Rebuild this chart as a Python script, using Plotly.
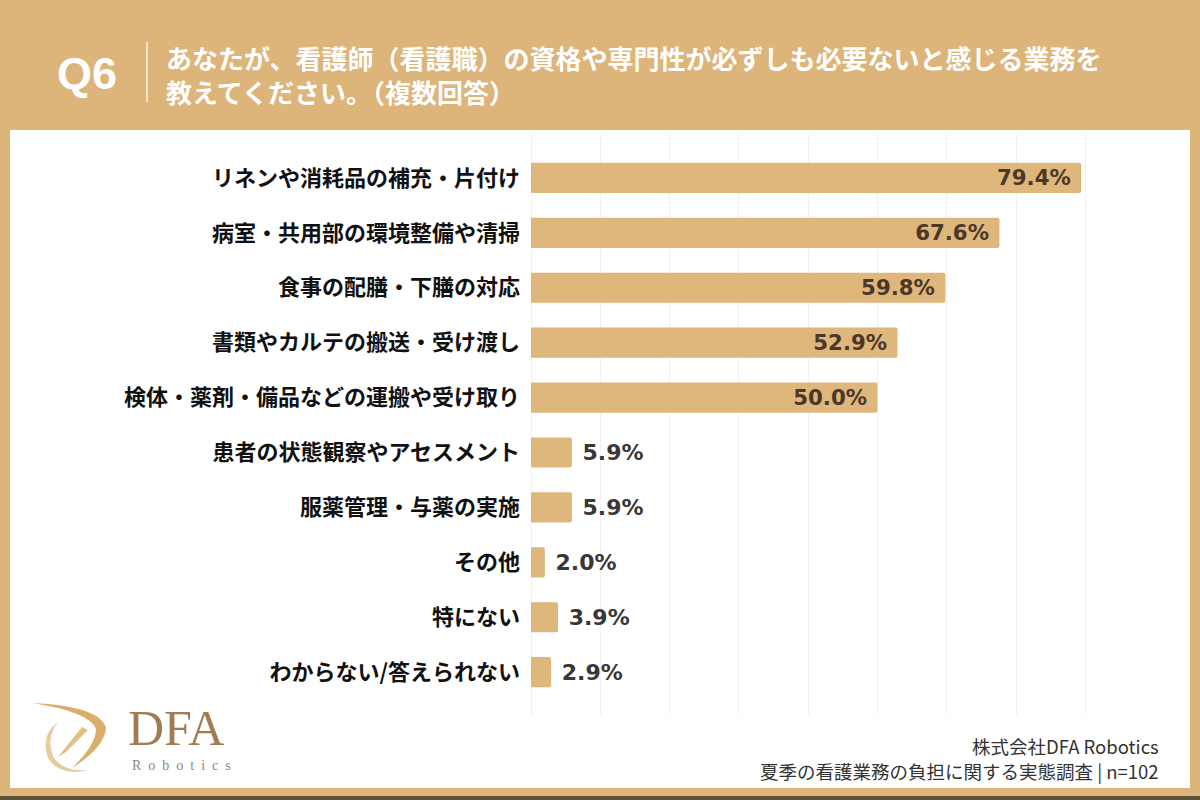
import plotly.graph_objects as go

# ---- data ----
categories = [
    "リネンや消耗品の補充・片付け",
    "病室・共用部の環境整備や清掃",
    "食事の配膳・下膳の対応",
    "書類やカルテの搬送・受け渡し",
    "検体・薬剤・備品などの運搬や受け取り",
    "患者の状態観察やアセスメント",
    "服薬管理・与薬の実施",
    "その他",
    "特にない",
    "わからない/答えられない",
]
values = [79.4, 67.6, 59.8, 52.9, 50.0, 5.9, 5.9, 2.0, 3.9, 2.9]

title_q = "Q6"
title_text = "あなたが、看護師（看護職）の資格や専門性が必ずしも必要ないと感じる業務を<br>教えてください。（複数回答）"
footer_company = "株式会社DFA Robotics"
footer_survey = "夏季の看護業務の負担に関する実態調査 | n=102"

W, H = 1200, 800
GOLD = "#DDB47A"
BAR = "#DFB67C"

def px(x):
    return x / W

def py(y):
    return 1 - y / H

texts = []
positions = []
for v in values:
    if v > 20:
        texts.append(f"{v:.1f}% ")
        positions.append("inside")
    else:
        texts.append(f" {v:.1f}%")
        positions.append("outside")

fig = go.Figure()
fig.add_trace(go.Bar(
    x=values,
    y=categories,
    orientation="h",
    width=0.55,
    marker=dict(color=BAR, line=dict(width=0), cornerradius=2),
    text=texts,
    textposition=positions,
    insidetextanchor="end",
    insidetextfont=dict(family="DejaVu Sans", size=22, color="#4a3828", weight=700),
    outsidetextfont=dict(family="DejaVu Sans", size=22, color="#3a3636", weight=700),
    cliponaxis=False,
    hoverinfo="skip",
))

shapes = []
# white panel
shapes.append(dict(type="rect", xref="paper", yref="paper",
                   x0=px(10), x1=px(1190), y0=py(788), y1=py(130),
                   fillcolor="white", line=dict(width=0), layer="below"))
# bottom dark line
shapes.append(dict(type="rect", xref="paper", yref="paper",
                   x0=0, x1=1, y0=py(800), y1=py(796),
                   fillcolor="#5e5136", line=dict(width=0), layer="below"))
# divider in header
shapes.append(dict(type="line", xref="paper", yref="paper",
                   x0=px(147), x1=px(147), y0=py(42), y1=py(102),
                   line=dict(color="rgba(255,255,255,0.85)", width=1.5)))

# logo swoosh (decorative)
def path(points_cmds):
    out = []
    for cmd in points_cmds:
        if isinstance(cmd, str):
            out.append(cmd)
        else:
            out.append(f"{px(cmd[0]):.5f},{py(cmd[1]):.5f}")
    return " ".join(out)

swoosh = path(["M", (32, 703), "Q", (100, 706), (106, 728), "Q", (104, 748), (72, 768),
               "Q", (96, 745), (96, 729), "Q", (90, 712), (32, 703), "Z"])
shapes.append(dict(type="path", xref="paper", yref="paper", path=swoosh,
                   fillcolor="#D9AE6A", line=dict(width=0)))
ring = path(["M", (58, 722), "Q", (40, 735), (48, 758), "Q", (60, 777), (88, 770),
             "Q", (62, 772), (53, 756), "Q", (46, 737), (58, 722), "Z"])
shapes.append(dict(type="path", xref="paper", yref="paper", path=ring,
                   fillcolor="#E6CC9E", line=dict(width=0)))
inner = path(["M", (82, 727), "L", (58, 757), "L", (66, 752), "L", (88, 730), "Z"])
shapes.append(dict(type="path", xref="paper", yref="paper", path=inner,
                   fillcolor="#E2BF85", line=dict(width=0)))

gap = "\u00a0\u00a0"
robotics = gap.join(list("Robotics"))

annotations = [
    dict(text=f"<b>{title_q}</b>", x=px(55), y=py(73), xref="paper", yref="paper",
         xanchor="left", yanchor="middle", showarrow=False,
         font=dict(family="Liberation Sans", size=45, color="white")),
    dict(text=title_text, x=px(164), y=py(74), xref="paper", yref="paper",
         xanchor="left", yanchor="middle", align="left", showarrow=False,
         font=dict(family="Noto Sans CJK JP", size=26, color="white", weight=700)),
    dict(text=footer_company, x=px(1161), y=py(746), xref="paper", yref="paper",
         xanchor="right", yanchor="middle", showarrow=False,
         font=dict(family="Noto Sans CJK JP", size=18.5, color="#333333")),
    dict(text=footer_survey, x=px(1161), y=py(771), xref="paper", yref="paper",
         xanchor="right", yanchor="middle", showarrow=False,
         font=dict(family="Noto Sans CJK JP", size=18.5, color="#333333")),
    dict(text="DFA", x=px(126), y=py(728), xref="paper", yref="paper",
         xanchor="left", yanchor="middle", showarrow=False,
         font=dict(family="Liberation Serif", size=50, color="#A27B52")),
    dict(text=robotics, x=px(130), y=py(765), xref="paper", yref="paper",
         xanchor="left", yanchor="middle", showarrow=False,
         font=dict(family="Liberation Serif", size=14, color="#8c8782")),
]

fig.update_layout(
    width=W, height=H,
    margin=dict(l=0, r=0, t=0, b=0),
    paper_bgcolor=GOLD,
    plot_bgcolor="rgba(0,0,0,0)",
    showlegend=False,
    shapes=shapes,
    annotations=annotations,
    xaxis=dict(domain=[px(531), px(1120)], range=[0, 85], tick0=0, dtick=10,
               showticklabels=False, showgrid=True, gridcolor="#F5F0F0", gridwidth=1,
               zeroline=True, zerolinecolor="#F5F0F0", zerolinewidth=1, showline=False),
    yaxis=dict(domain=[py(715), py(134)], type="category", range=[9.78, -0.80],
               tickfont=dict(family="Noto Sans CJK JP", size=22, color="#111111", weight=700),
               ticks="", ticklabelstandoff=10, showgrid=False, showline=False, zeroline=False),
)

fig.write_html("out.html")
